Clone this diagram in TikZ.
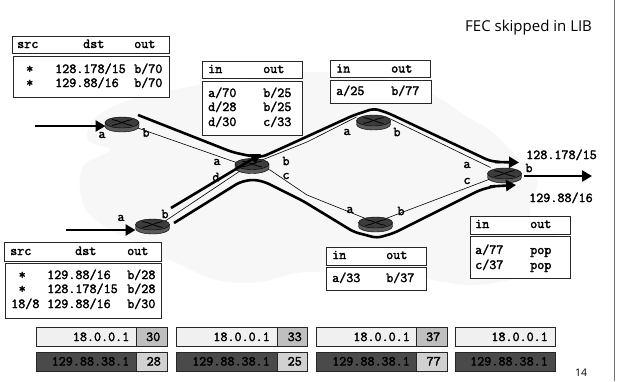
\documentclass[tikz,border=0pt]{standalone}
\usepackage{fontspec}
\newfontfamily\titlefont{Open Sans}
\newfontfamily\monofam[FakeBold=2.2]{Latin Modern Mono}
\usetikzlibrary{arrows.meta,shapes.geometric,calc}
\definecolor{cloudc}{HTML}{F7F7F7}
\definecolor{darkbox}{HTML}{4A4A4A}
\definecolor{routtop}{HTML}{3C3C3C}
\definecolor{routside}{HTML}{5A5A5A}
\newcommand\monof{\monofam\fontsize{13.7}{15}\selectfont}
\newcounter{tc}
\newcommand\cellt[3]{\stepcounter{tc}\node[celltxt,name=t\thetc] at (#1,#2) {#3};}
\newcommand\lab[3]{\stepcounter{tc}\node[portlab,name=t\thetc] at (#1,#2) {#3};}
\newcommand\tbox[4]{\draw[tabbox] (#1,#2) rectangle (#3,#4);}
\newcommand\routericon[1]{%
  \begin{scope}[shift={(#1)}]
    \filldraw[fill=routside,draw=black,line width=.4pt] (-17,0) -- (-17,4) arc[start angle=180,end angle=360,x radius=17pt,y radius=5.5pt] -- (17,0) -- cycle;
    \filldraw[fill=routtop,draw=black,line width=.4pt] (0,0) ellipse[x radius=17pt,y radius=5.5pt];
    \draw[black,line width=.8pt] (-10,-3) .. controls (-3,-2) and (3,2) .. (10,3);
    \draw[black,line width=.8pt] (10,-3) .. controls (3,-2) and (-3,2) .. (-10,3);
  \end{scope}}
\newcommand\packet[8]{%
  \stepcounter{tc}\node[pktbox,fill=#6,minimum width={#2-#1},minimum height={#5-#4},name=t\thetc] at ({(#1+#2)/2},{(#4+#5)/2}) {};
  \ifx\relax#8\relax\else
  \stepcounter{tc}\node[pktbox,fill=#7,minimum width={#3-#2},minimum height={#5-#4},name=t\thetc] at ({(#2+#3)/2},{(#4+#5)/2}) {};
  \fi}
\tikzset{
  celltxt/.style={anchor=base west,inner sep=0pt,font=\monof,text=black},
  portlab/.style={anchor=center,inner sep=0pt,font=\monof},
  tabbox/.style={draw=black!85,line width=1pt,fill=white},
  pktbox/.style={draw=black!85,line width=.9pt,inner sep=0pt,outer sep=0pt},
  thinlink/.style={black,line width=.6pt},
  thicklink/.style={black,line width=2.6pt,rounded corners=5pt,line cap=butt},
  arrowlink/.style={thicklink,-{Triangle[length=10pt,width=11pt]}}
}
\begin{document}
\begin{tikzpicture}[x=1pt,y=-1pt]
\useasboundingbox (0,0) rectangle (617,381);
\fill[white] (0,0) rectangle (617,381);
% cloud
\fill[cloudc] plot[smooth cycle,tension=.55] coordinates {(80,190)(84,165)(110,150)(88,140)(95,118)(130,100)(200,85)(267,78)(310,72)(377,77)(430,93)(467,117)(490,130)(510,150)(537,180)(530,215)(560,240)(540,270)(474,285)(400,275)(307,272)(260,282)(217,280)(177,263)(123,237)(90,215)};
\draw[black!55,line width=1.3pt] (614.5,0) -- (614.5,381);
% router positions
\coordinate (r1) at (122,122.5);
\coordinate (r2) at (252,164);
\coordinate (r3) at (373.5,120.5);
\coordinate (r4) at (375.5,222.5);
\coordinate (r5) at (504.5,173.5);
\coordinate (r6) at (152.5,224.5);
% thin links
\draw[thinlink] (r1) -- ($(r2)+(0,4)$);
\draw[thinlink] ($(r6)+(0,5)$) -- ($(r2)+(0,-1)$);
\draw[thinlink] (r2) -- (307,142) -- ($(r3)+(-17,-3.5)$);
\draw[thinlink] (r2) -- (270,170) -- (307,195) -- (r4);
\draw[thinlink] ($(r3)+(16,-2)$) -- ($(r5)+(-14,-6)$);
\draw[thinlink] (r4) -- (r5);
% routers
\routericon{r1}\routericon{r2}\routericon{r3}\routericon{r4}\routericon{r5}\routericon{r6}
% thick arrows
\coordinate (ina) at (35,126);
\coordinate (inat) at (105.5,126);
\coordinate (inb) at (66,230);
\coordinate (inbt) at (135.5,230);
\coordinate (outs) at (524,176);
\coordinate (outa) at (592,176);
\draw[arrowlink] (ina) -- (inat);
\draw[arrowlink] (inb) -- (inbt);
\draw[arrowlink] (outs) -- (outa);
\draw[thicklink] (138,115) -- (232,152) -- (250,156) -- (262,157) -- (293,143) -- (353,115.5) -- (374,108.5) -- (388,113) -- (490,161) -- (500,162);
\draw[arrowlink] (495,162) -- (519,162.5);
\draw[arrowlink] (171,208) -- (261,154);
\draw[thicklink] (174,223) -- (240,182) -- (253,179.5) -- (265,182) -- (303,201) -- (354,232) -- (377,238) -- (394,233) -- (480,190) -- (495,186);
\draw[arrowlink] (490,186.5) -- (516,185);
% tables
\tbox{12}{36}{169}{53}\tbox{13}{56}{169}{97}
\cellt{17}{48}{src}\cellt{83}{48}{dst}\cellt{134}{48}{out}
\cellt{26}{73}{*}\cellt{55}{73}{128.178/15}\cellt{134}{73}{b/70}
\cellt{26}{87}{*}\cellt{55}{87}{129.88/16}\cellt{134}{87}{b/70}
\tbox{202}{61}{302}{78}\tbox{202}{81}{302}{135}
\cellt{208}{73}{in}\cellt{263}{73}{out}
\cellt{208}{97}{a/70}\cellt{263}{97}{b/25}
\cellt{208}{111}{d/28}\cellt{263}{111}{b/25}
\cellt{208}{126}{d/30}\cellt{263}{126}{c/33}
\tbox{330.5}{60}{430}{77.5}\tbox{330.5}{80.5}{431}{103}
\cellt{336}{72.5}{in}\cellt{391}{72.5}{out}
\cellt{336}{95}{a/25}\cellt{391}{95}{b/77}
\tbox{4.5}{242.5}{161}{261}\tbox{5}{263.5}{161}{318}
\cellt{10}{255}{src}\cellt{75}{255}{dst}\cellt{127}{255}{out}
\cellt{18.5}{279}{*}\cellt{47}{279}{129.88/16}\cellt{127}{279}{b/28}
\cellt{18.5}{293}{*}\cellt{47}{293}{128.178/15}\cellt{127}{293}{b/28}
\cellt{11}{308}{18/8}\cellt{47}{308}{129.88/16}\cellt{127}{308}{b/30}
\tbox{326}{247}{426}{265}\tbox{326}{267.5}{426}{290}
\cellt{332}{259}{in}\cellt{386}{259}{out}
\cellt{332}{282}{a/33}\cellt{386}{282}{b/37}
\tbox{470.5}{216}{570}{234}\tbox{470.5}{236.5}{570}{278}
\cellt{475}{228}{in}\cellt{530}{228}{out}
\cellt{475}{254}{a/77}\cellt{530}{254}{pop}
\cellt{475}{269}{c/37}\cellt{530}{269}{pop}
% port labels
\lab{102}{135}{a}\lab{146}{132.5}{b}
\lab{121}{218}{a}\lab{165}{214}{b}
\lab{217}{162}{a}\lab{216}{177}{d}\lab{286}{161}{b}\lab{286}{176}{c}
\lab{347}{132}{a}\lab{397}{132}{b}
\lab{350}{210}{a}\lab{401}{211}{b}
\lab{467}{165}{a}\lab{467}{181}{c}\lab{529}{168}{b}
\cellt{526}{159}{128.178/15}\cellt{529}{202}{129.88/16}
% packets
\packet{36.5}{136}{167}{327}{346}{black!6}{black!25}{x}
\packet{176.5}{277}{307}{327}{346}{black!6}{black!25}{x}
\packet{316}{416}{447}{327}{346}{black!6}{black!25}{x}
\packet{455}{555}{555}{327}{346}{black!6}{black!25}{}
\packet{36.5}{136}{167}{352}{371}{darkbox}{black!18}{x}
\packet{176.5}{277}{307}{352}{371}{darkbox}{black!18}{x}
\packet{316}{416}{447}{352}{371}{darkbox}{black!18}{x}
\packet{455}{555}{555}{352}{371}{darkbox}{black!18}{}
\tikzset{pkttxt/.style={anchor=base east,inner sep=0pt,font=\monof,text=black}}
\node[pkttxt,name=p1] at (129.5,341) {18.0.0.1};
\node[pkttxt,name=p2] at (270,341) {18.0.0.1};
\node[pkttxt,name=p3] at (410,341) {18.0.0.1};
\node[pkttxt,name=p4] at (548,341) {18.0.0.1};
\node[pkttxt,name=p5] at (129.5,365.5) {129.88.38.1};
\node[pkttxt,name=p6] at (270,365.5) {129.88.38.1};
\node[pkttxt,name=p7] at (410,365.5) {129.88.38.1};
\node[pkttxt,name=p8] at (548,365.5) {129.88.38.1};
\node[pkttxt,name=l1] at (160.5,341) {30};
\node[pkttxt,name=l2] at (302,341) {33};
\node[pkttxt,name=l3] at (440.5,341) {37};
\node[pkttxt,name=l4] at (161,365.5) {28};
\node[pkttxt,name=l5] at (302,365.5) {25};
\node[pkttxt,name=l6] at (441,365.5) {77};
% captions
\node[anchor=base west,inner sep=0pt,font=\titlefont\fontsize{15}{17}\selectfont,name=title] at (465,31) {FEC skipped in LIB};
\node[anchor=base west,inner sep=0pt,font=\titlefont\fontsize{10.5}{12}\selectfont,name=pageno] at (575,376) {14};
\end{tikzpicture}
\end{document}
